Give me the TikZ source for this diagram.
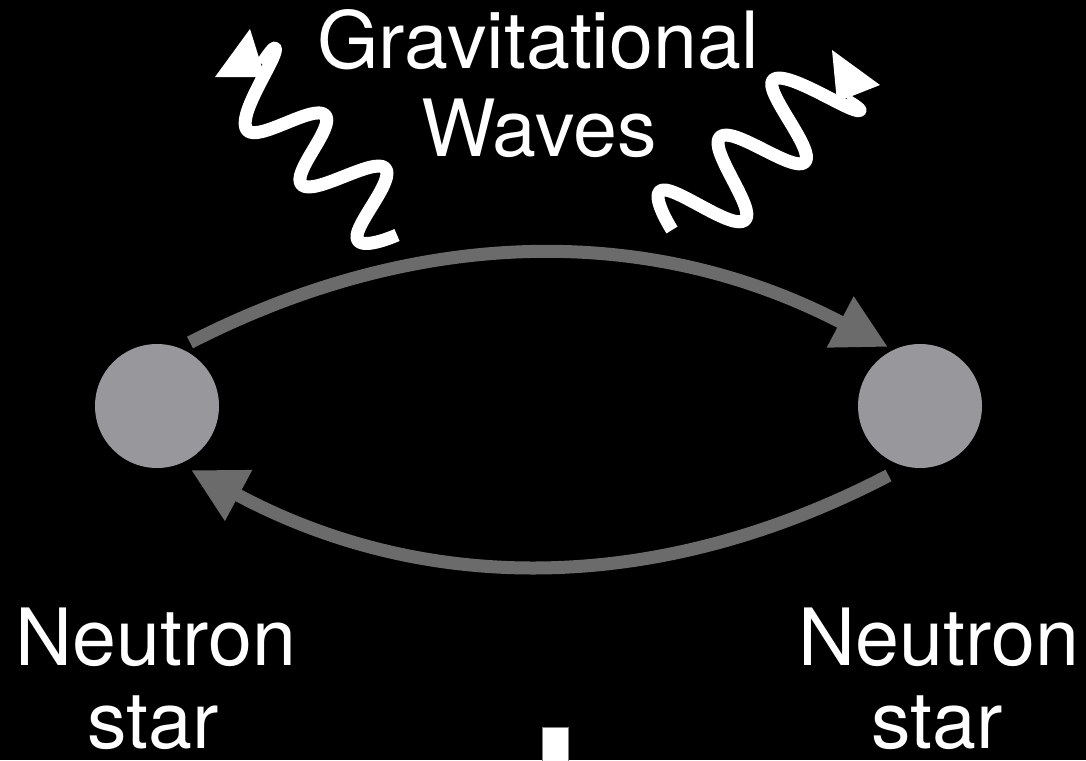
\documentclass[tikz,border=0pt]{standalone}
\usepackage{fontspec}
\setmainfont{TeX Gyre Heros}
\usetikzlibrary{arrows.meta}
\definecolor{nsgray}{RGB}{152,151,156}
\definecolor{orbitgray}{RGB}{107,107,107}
\begin{document}
\begin{tikzpicture}[x=1pt,y=-1pt,
  txt/.style={text=white,inner sep=0pt,anchor=base,font=\fontsize{79}{83}\selectfont},
  nstar/.style={circle,fill=nsgray,minimum size=124pt,inner sep=0pt},
  orbit/.style={draw=orbitgray,line width=13pt,-{Triangle[length=54pt,width=54pt]}},
  wave/.style={draw=white,line width=13pt,line join=round},
  wavetip/.style={fill=white}]
\fill[black] (0,0) rectangle (1086,760);
\useasboundingbox (0,0) rectangle (1086,760);

% neutron stars
\node[nstar] (ns1) at (157,406) {};
\node[nstar] (ns2) at (920,406) {};

% orbit arrows
\draw[orbit] ([shift={(33,-63.5)}]ns1.center) .. controls (422.7,223.5) and (655.3,225) .. ([shift={(-32,-59)}]ns2.center);
\draw[orbit] ([shift={(-31.5,69.5)}]ns2.center) .. controls (656.2,596.5) and (423.7,594.7) .. ([shift={(34,64)}]ns1.center);

% gravitational waves
\draw[wave] plot[smooth,tension=0.75] coordinates {(397,235) (357,238) (385,168) (302,185) (325,115) (247,130) (275,52) (262,64)};
\fill[wavetip] (250,29) -- (215,77) -- (265,77) -- cycle;
\draw[wave] plot[smooth,tension=0.75] coordinates {(672,230) (663,190) (745,220) (720,137) (805,162) (773,80) (855,110) (846,100)};
\fill[wavetip] (832,50) -- (880,85) -- (837,102) -- cycle;

% cut-off element at the bottom
\fill[white,draw=gray,line width=1pt] (542,727) rectangle (568,762);

% labels
\node[txt] (g1) at (538,69) {Gravitational};
\node[txt] (g2) at (539,156) {Waves};
\node[txt] (n1a) at (156,665) {Neutron};
\node[txt] (n1b) at (153,748) {star};
\node[txt] (n2a) at (939,665) {Neutron};
\node[txt] (n2b) at (937,748) {star};
\end{tikzpicture}
\end{document}
